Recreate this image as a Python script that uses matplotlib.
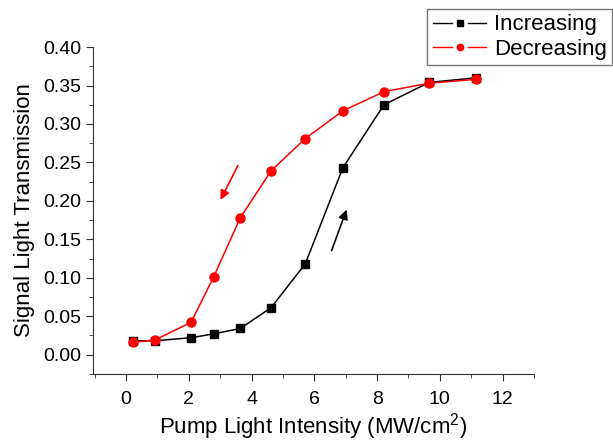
import matplotlib.pyplot as plt
from matplotlib.lines import Line2D
from matplotlib.legend_handler import HandlerBase
from matplotlib.ticker import MultipleLocator

plt.rcParams['font.family'] = ['Liberation Sans', 'DejaVu Sans']
plt.rcParams['mathtext.fontset'] = 'custom'
plt.rcParams['mathtext.rm'] = 'Liberation Sans'

# pump intensity (MW/cm^2)
intensity = [0.22, 0.92, 2.07, 2.79, 3.64, 4.62, 5.71, 6.91, 8.22, 9.66, 11.15]
increasing = [0.018, 0.018, 0.022, 0.027, 0.034, 0.061, 0.118, 0.243, 0.325, 0.354, 0.360]
decreasing = [0.016, 0.019, 0.042, 0.101, 0.178, 0.239, 0.281, 0.317, 0.342, 0.353, 0.358]


# legend entry drawn like Origin: line - marker - line, with gaps
class SplitLine(HandlerBase):
    def create_artists(self, legend, orig, xd, yd, w, h, fontsize, trans):
        y = h / 2 - yd
        c = orig.get_color()
        left = Line2D([-xd, -xd + 0.35 * w], [y, y], color=c, lw=1, transform=trans)
        right = Line2D([-xd + 0.65 * w, -xd + w], [y, y], color=c, lw=1, transform=trans)
        mark = Line2D([-xd + w / 2], [y], ls='none', marker=orig.get_marker(),
                      ms=orig.get_markersize() * 0.7, color=c, transform=trans)
        return [left, right, mark]


fig = plt.figure(figsize=(6.13, 4.44), dpi=100)
ax = fig.add_axes([0.152, 0.158, 0.719, 0.736])

l1, = ax.plot(intensity, increasing, color='black', lw=1.1, marker='s', ms=5.5)
l2, = ax.plot(intensity, decreasing, color='red', lw=1.1, marker='o', ms=6.5)

# direction arrows
ax.annotate('', xy=(2.97, 0.198), xytext=(3.6, 0.249),
            arrowprops=dict(arrowstyle='-|>', color='red', lw=1.2, mutation_scale=14))
ax.annotate('', xy=(7.06, 0.192), xytext=(6.52, 0.132),
            arrowprops=dict(arrowstyle='-|>', color='black', lw=1.2, mutation_scale=14))

ax.set_xlim(-1.05, 13)
ax.set_ylim(-0.025, 0.40)
ax.xaxis.set_major_locator(MultipleLocator(2))
ax.xaxis.set_minor_locator(MultipleLocator(1))
ax.yaxis.set_major_locator(MultipleLocator(0.05))
ax.yaxis.set_minor_locator(MultipleLocator(0.025))
ax.yaxis.set_major_formatter(plt.FormatStrFormatter('%.2f'))

for s in ['top', 'right']:
    ax.spines[s].set_visible(False)
for s in ['left', 'bottom']:
    ax.spines[s].set_color('#333333')
ax.tick_params(which='both', direction='out', labelsize=14, color='#333333')
ax.tick_params(which='major', length=5)
ax.tick_params(which='minor', length=3)
ax.tick_params(axis='x', pad=7)

fig.text(0.51, 0.024, 'Pump Light Intensity (MW/cm$^2$)', fontsize=16,
         ha='center', va='baseline')
ax.set_ylabel('Signal Light Transmission', fontsize=16, labelpad=6)

fig.legend(handles=[l1, l2], labels=['Increasing', 'Decreasing'],
           handler_map={l1: SplitLine(), l2: SplitLine()},
           loc='upper right', bbox_to_anchor=(0.999, 0.98),
           fontsize=16, frameon=True, fancybox=False, edgecolor='#555555',
           handlelength=2.4, handletextpad=0.35, borderpad=0.25, labelspacing=0.15,
           borderaxespad=0)

fig.savefig('out.png', dpi=100)
